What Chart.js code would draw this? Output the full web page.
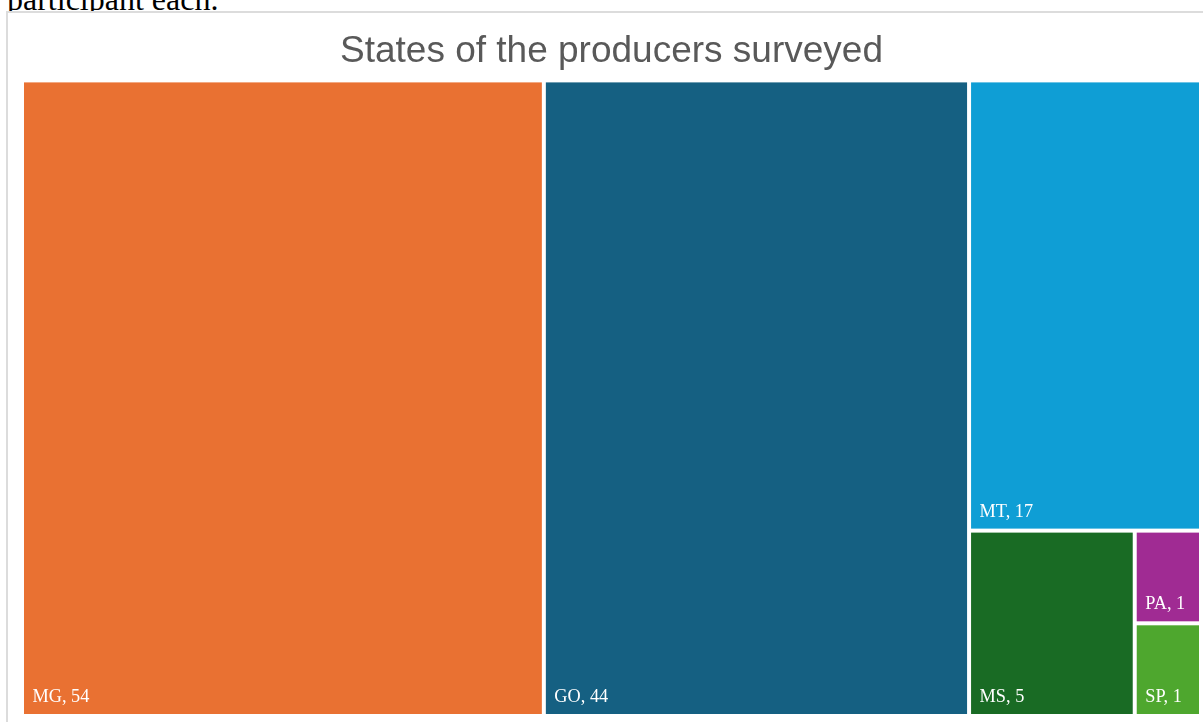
<!DOCTYPE html>
<html>
<head>
<meta charset="utf-8">
<script src="https://cdn.jsdelivr.net/npm/chart.js@4/dist/chart.umd.min.js"></script>
<style>
html, body { margin: 0; padding: 0; background: #fff; width: 1203px; height: 722px; overflow: hidden; }
#pre { position: absolute; left: 7px; top: -17px; font-family: "Liberation Serif", "Times New Roman", serif; font-size: 32px; line-height: 32px; color: #000; white-space: nowrap; }
#box { position: absolute; left: 6px; top: 11px; width: 1300px; height: 800px; border-left: 2px solid #dcdcdc; border-top: 2px solid #dcdcdc; background: #fff; }
#box canvas { position: absolute; left: 0; top: 0; }
</style>
</head>
<body>
<div id="pre">participant each.</div>
<div id="box"><canvas id="c" width="1195" height="709"></canvas></div>
<script>
// ---- data ----
const categories = ['MG', 'GO', 'MT', 'MS', 'PA', 'SP'];
const values = [54, 44, 17, 5, 1, 1];
const titleText = 'States of the producers surveyed';

// ---- style ----
const colors = ['#E97132', '#156082', '#0F9ED5', '#196B24', '#A02B93', '#4EA72E'];

function worst(row, s) {
  let sum = 0, mx = -Infinity, mn = Infinity;
  row.forEach(r => { sum += r.a; mx = Math.max(mx, r.a); mn = Math.min(mn, r.a); });
  return Math.max(s * s * mx / (sum * sum), (sum * sum) / (s * s * mn));
}

// squarified treemap in a w x h box, returned normalized to 0..1
function squarify(vals, W, H) {
  const total = vals.reduce((a, b) => a + b, 0);
  let x = 0, y = 0, w = W, h = H;
  let rest = vals.map((v, i) => ({ i, a: v / total * W * H }));
  const out = [];
  while (rest.length) {
    const s = Math.min(w, h);
    let row = [rest[0]];
    let k = 1;
    while (k < rest.length) {
      const cand = row.concat([rest[k]]);
      if (worst(cand, s) <= worst(row, s)) { row = cand; k++; } else break;
    }
    const sum = row.reduce((a, r) => a + r.a, 0);
    if (w >= h) {
      const rw = sum / h; let yy = y;
      row.forEach(r => { const rh = r.a / rw; out[r.i] = { x0: x, y0: yy, x1: x + rw, y1: yy + rh }; yy += rh; });
      x += rw; w -= rw;
    } else {
      const rh = sum / w; let xx = x;
      row.forEach(r => { const rw = r.a / rh; out[r.i] = { x0: xx, y0: y, x1: xx + rw, y1: y + rh }; xx += rw; });
      y += rh; h -= rh;
    }
    rest = rest.slice(row.length);
  }
  return out.map(r => ({ x0: r.x0 / W, y0: r.y0 / H, x1: r.x1 / W, y1: r.y1 / H }));
}

const treemapPlugin = {
  id: 'treemapCells',
  afterDatasetsDraw(chart) {
    const { ctx, chartArea, scales } = chart;
    const rects = squarify(values, chartArea.width, chartArea.height);
    const gap = 2;
    ctx.save();
    rects.forEach((r, i) => {
      const px0 = scales.x.getPixelForValue(r.x0) + gap;
      const px1 = scales.x.getPixelForValue(r.x1) - gap;
      const py0 = scales.y.getPixelForValue(r.y0) + gap;
      const py1 = scales.y.getPixelForValue(r.y1) - gap;
      ctx.fillStyle = colors[i];
      ctx.fillRect(px0, py0, px1 - px0, py1 - py0);
      ctx.fillStyle = '#ffffff';
      ctx.font = '18.3px "Liberation Serif", "Times New Roman", serif';
      ctx.textBaseline = 'alphabetic';
      ctx.textAlign = 'left';
      ctx.fillText(categories[i] + ', ' + values[i], px0 + 8.5, py1 - 12);
    });
    ctx.restore();
  }
};

const centers = () => {
  const r = squarify(values, 1179, 636);
  return r.map(q => ({ x: (q.x0 + q.x1) / 2, y: (q.y0 + q.y1) / 2 }));
};

new Chart(document.getElementById('c'), {
  type: 'scatter',
  data: {
    labels: categories,
    datasets: [{ label: 'States', data: centers(), pointRadius: 0, pointHoverRadius: 0 }]
  },
  options: {
    responsive: false,
    maintainAspectRatio: false,
    animation: false,
    layout: { padding: { left: 14, right: 2, top: 0, bottom: 6 } },
    scales: {
      x: { type: 'linear', min: 0, max: 1, display: false },
      y: { type: 'linear', min: 0, max: 1, reverse: true, display: false }
    },
    plugins: {
      legend: { display: false },
      tooltip: { enabled: false },
      title: {
        display: true,
        text: titleText,
        color: '#595959',
        font: { family: '"Liberation Sans", Arial, sans-serif', size: 37, weight: 'normal', lineHeight: 1.2 },
        padding: { top: 16.5, bottom: 6.5 }
      }
    }
  },
  plugins: [treemapPlugin]
});
</script>
</body>
</html>
